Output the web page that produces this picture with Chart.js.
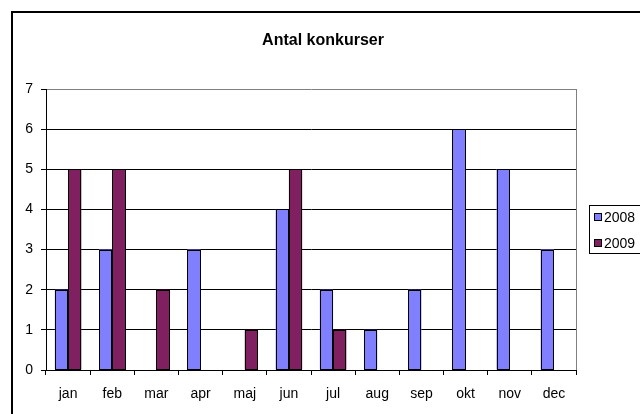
<!DOCTYPE html>
<html>
<head>
<meta charset="utf-8">
<script src="https://cdn.jsdelivr.net/npm/chart.js@4"></script>
<style>
  html, body { margin: 0; padding: 0; background: #fff; }
  #wrap { width: 640px; height: 414px; position: relative; }
</style>
</head>
<body>
<div id="wrap"><canvas id="chart"></canvas></div>
<script>
const title = "Antal konkurser";
const months = ["jan", "feb", "mar", "apr", "maj", "jun", "jul", "aug", "sep", "okt", "nov", "dec"];
const series2008 = [2, 3, 0, 3, 0, 4, 2, 1, 2, 6, 5, 3];
const series2009 = [5, 5, 2, 0, 1, 5, 1, null, null, null, null, null];
const seriesNames = ["2008", "2009"];
const seriesColors = ["#8080FF", "#802060"];

const FONT = "'Liberation Sans', Arial, sans-serif";

// frame, title, plot border, crisp bar outlines and legend box, Excel style
let excelDecor = {
    id: "excelDecor",
    beforeDraw: (chart) => {
        let ctx = chart.ctx;
        ctx.save();
        ctx.fillStyle = "#fff";
        ctx.fillRect(0, 0, chart.width, chart.height);
        ctx.restore();
    },
    afterDatasetsDraw: (chart) => {
        let ctx = chart.ctx;
        ctx.save();
        ctx.strokeStyle = "#000";
        ctx.lineWidth = 1;
        chart.data.datasets.forEach((ds, i) => {
            chart.getDatasetMeta(i).data.forEach((bar, j) => {
                if (!ds.data[j]) return;
                let p = bar.getProps(["x", "y", "base", "width"], true);
                let l = Math.round(p.x - p.width / 2) + 0.5;
                let r = Math.round(p.x + p.width / 2) - 0.5;
                let t = Math.round(p.y) + 0.5;
                let b = Math.round(p.base) - 0.5;
                ctx.strokeRect(l, t, r - l, b - t);
            });
        });
        ctx.restore();
    },
    afterDraw: (chart) => {
        let ctx = chart.ctx;
        let area = chart.chartArea;
        ctx.save();

        // outer frame (cut off at right and bottom)
        ctx.strokeStyle = "#000";
        ctx.lineWidth = 2;
        ctx.strokeRect(12, 12, 700, 500);

        // plot area right border
        ctx.strokeStyle = "#808080";
        ctx.lineWidth = 1;
        ctx.beginPath();
        ctx.moveTo(Math.round(area.right) + 0.5, area.top);
        ctx.lineTo(Math.round(area.right) + 0.5, area.bottom);
        ctx.stroke();

        // title
        ctx.fillStyle = "#000";
        ctx.font = "bold 16px " + FONT;
        ctx.textAlign = "center";
        ctx.textBaseline = "middle";
        ctx.fillText(title, 323, 41);

        // legend
        ctx.strokeStyle = "#000";
        ctx.lineWidth = 1;
        ctx.strokeRect(589.5, 205.5, 80, 48);
        ctx.font = "14px " + FONT;
        ctx.textAlign = "left";
        chart.data.datasets.forEach((ds, i) => {
            let y = 217 + i * 26;
            ctx.fillStyle = ds.backgroundColor;
            ctx.fillRect(594, y - 4, 7, 7);
            ctx.strokeRect(594.5, y - 3.5, 7, 7);
            ctx.fillStyle = "#000";
            ctx.fillText(ds.label, 604, y + 1);
        });

        ctx.restore();
    }
};

let chart = new Chart("chart", {
    type: "bar",
    data: {
        labels: months,
        datasets: [series2008, series2009].map((values, i) => ({
            label: seriesNames[i],
            data: values,
            backgroundColor: seriesColors[i],
            borderWidth: 0,
            categoryPercentage: 0.6,
            barPercentage: 1.0
        }))
    },
    options: {
        responsive: true,
        maintainAspectRatio: false,
        animation: false,
        layout: { padding: { left: 12, right: 64, top: 89, bottom: 0 } },
        plugins: {
            legend: { display: false },
            title: { display: false },
            tooltip: { enabled: false }
        },
        scales: {
            x: {
                grid: {
                    offset: true,
                    drawOnChartArea: false,
                    drawTicks: true,
                    tickLength: 5,
                    tickColor: "#000"
                },
                border: { color: "#000", width: 1 },
                ticks: { color: "#000", font: { family: FONT, size: 14 }, padding: 11, maxRotation: 0 },
                afterFit: (scale) => { scale.height = 44; }
            },
            y: {
                min: 0,
                max: 7,
                grid: {
                    color: (c) => c.tick && c.tick.value === 7 ? "#808080" : "#000",
                    tickColor: "#000",
                    tickLength: 5,
                    lineWidth: 1
                },
                border: { color: "#000", width: 1 },
                ticks: { stepSize: 1, color: "#000", font: { family: FONT, size: 14 }, padding: 8 },
                afterFit: (scale) => { scale.width = 34; }
            }
        }
    },
    plugins: [excelDecor]
});
</script>
</body>
</html>
